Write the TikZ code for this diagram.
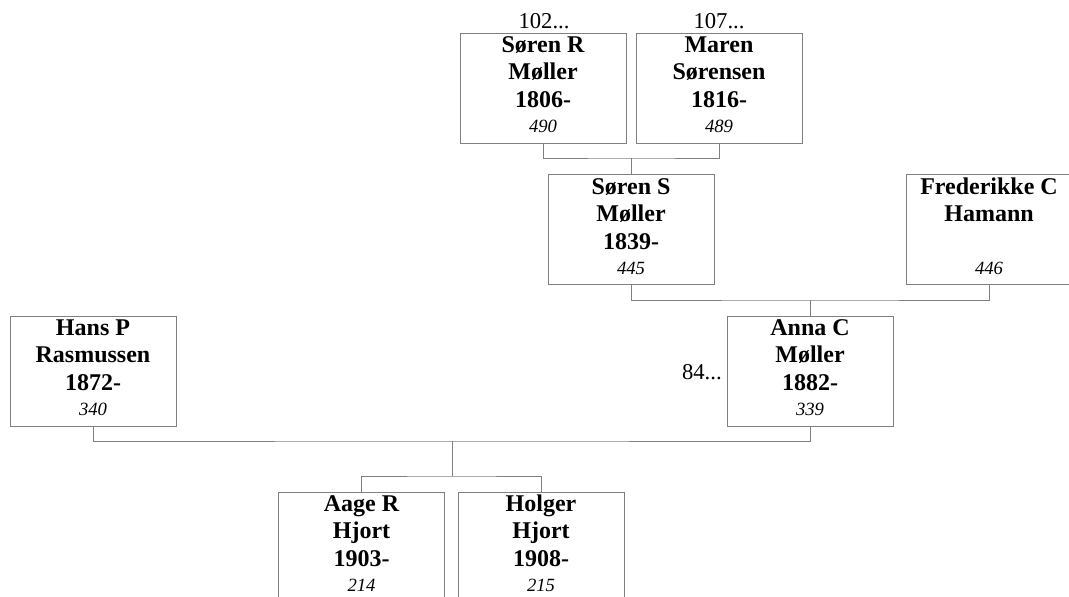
\documentclass[tikz,border=0pt]{standalone}
\usepackage{fontspec}
\setmainfont{Liberation Serif}

\begin{document}
\begin{tikzpicture}
[
	x=0.75pt,y=-0.75pt,
	person/.style={draw=gray,line width=0.75pt,minimum width=124.5pt,minimum height=82.5pt,inner sep=0pt},
	namept/.style={anchor=base,inner sep=0pt,font=\fontsize{18}{20}\selectfont\bfseries},
	numpt/.style={anchor=base,inner sep=0pt,font=\fontsize{14}{16}\selectfont\itshape},
	morept/.style={anchor=base,inner sep=0pt,font=\fontsize{17}{20}\selectfont},
	link/.style={draw=gray,line width=0.75pt}
]

	% frame
	\useasboundingbox (0,0) rectangle (1069,596);
	\clip (0,0) rectangle (1069,596);

	% persons
	\foreach \id/\x/\y/\first/\second/\year/\num in {
		sr/543/88/Søren R/Møller/1806-/490,
		ms/719/88/Maren/Sørensen/1816-/489,
		ss/631/229.5/Søren S/Møller/1839-/445,
		fh/989/229.5/Frederikke C/Hamann//446,
		hp/93/371/Hans P/Rasmussen/1872-/340,
		ac/810/371/Anna C/Møller/1882-/339,
		ar/361.5/547/Aage R/Hjort/1903-/214,
		hh/541/547/Holger/Hjort/1908-/215
	} {
		\node[person] (\id) at (\x,\y) {};
		\node[namept] (\id-first) at ([yshift=-15pt]\id.north) {\first};
		\node[namept] (\id-second) at ([yshift=-35.25pt]\id.north) {\second};
		\node[namept] (\id-year) at ([yshift=-56.25pt]\id.north) {\year};
		\node[numpt] (\id-num) at ([yshift=-75pt]\id.north) {\num};
	}

	% more ancestors
	\node[morept] (sr-more) at (544,28) {102...};
	\node[morept] (ms-more) at (719,28) {107...};
	\node[morept,anchor=base east] (ac-more) at (722,379) {84...};

	% junctions
	\coordinate (j1) at (631,158);
	\coordinate (j2) at (810,300);
	\coordinate (j3) at (452,441);
	\coordinate (j4) at (452,476);

	% links
	\draw[link] (sr.south) |- (j1) -| (ms.south);
	\draw[link] (j1) -- (ss.north);
	\draw[link] (ss.south) |- (j2) -| (fh.south);
	\draw[link] (j2) -- (ac.north);
	\draw[link] (hp.south) |- (j3) -| (ac.south);
	\draw[link] (j3) -- (j4);
	\draw[link] (ar.north) |- (j4) -| (hh.north);

\end{tikzpicture}
\end{document}
